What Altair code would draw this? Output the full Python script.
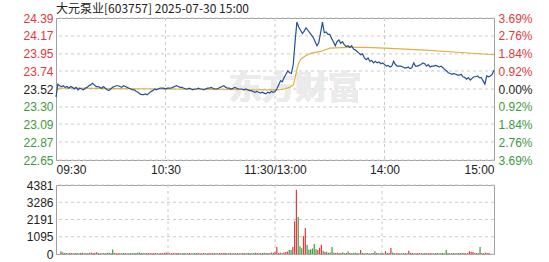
import altair as alt
import pandas as pd

title_text = "大元泵业[603757] 2025-07-30 15:00"
watermark = "东方财富"
prev_close = 23.52
price_ticks = [24.39, 24.17, 23.95, 23.74, 23.52, 23.30, 23.09, 22.87, 22.65]
pct_ticks = [3.69, 2.76, 1.84, 0.92, 0.00, -0.92, -1.84, -2.76, -3.69]
vol_ticks = [0, 1095, 2191, 3286, 4381]
time_ticks = [0, 60, 120, 180, 240]
time_labels = ["09:30", "10:30", "11:30/13:00", "14:00", "15:00"]

price = [
    23.42, 23.58, 23.56, 23.55, 23.56, 23.54, 23.55, 23.53, 23.55, 23.54,
    23.52, 23.54, 23.51, 23.53, 23.52, 23.51, 23.53, 23.54, 23.56, 23.57,
    23.59, 23.57, 23.55, 23.55, 23.54, 23.53, 23.55, 23.53, 23.51, 23.50,
    23.52, 23.54, 23.55, 23.56, 23.56, 23.55, 23.54, 23.56, 23.55, 23.54,
    23.53, 23.52, 23.51, 23.51, 23.49, 23.48, 23.46, 23.45, 23.45, 23.46,
    23.45, 23.47, 23.49, 23.50, 23.52, 23.51, 23.52, 23.53, 23.53, 23.53,
    23.52, 23.53, 23.53, 23.53, 23.54, 23.55, 23.56, 23.55, 23.54, 23.54,
    23.53, 23.52, 23.52, 23.53, 23.52, 23.51, 23.52, 23.52, 23.53, 23.52,
    23.52, 23.51, 23.52, 23.53, 23.53, 23.54, 23.53, 23.52, 23.52, 23.53,
    23.54, 23.55, 23.56, 23.54, 23.53, 23.53, 23.52, 23.53, 23.54, 23.53,
    23.52, 23.52, 23.52, 23.51, 23.52, 23.51, 23.50, 23.50, 23.49, 23.48,
    23.49, 23.48, 23.47, 23.48, 23.47, 23.46, 23.48, 23.47, 23.49, 23.48,
    23.49,
    23.52, 23.57, 23.62, 23.61, 23.66, 23.70, 23.74, 23.72, 23.71, 23.82,
    24.10, 24.34, 24.28, 24.24, 24.20, 24.23, 24.27, 24.24, 24.21, 24.18,
    24.15, 24.10, 24.05, 24.09, 24.21, 24.34, 24.21, 24.22, 24.19, 24.19,
    24.14, 24.10, 24.05, 24.10, 24.12, 24.08, 24.10, 24.06, 24.04, 24.05,
    24.03, 24.05, 24.01, 24.00, 23.98, 23.96, 23.94, 23.95, 23.90, 23.88,
    23.90, 23.86, 23.87, 23.84, 23.86, 23.84, 23.85, 23.83, 23.84, 23.82,
    23.80, 23.81, 23.79, 23.80, 23.86, 23.82, 23.80, 23.80, 23.80, 23.79,
    23.78, 23.78, 23.79, 23.77, 23.78, 23.84, 23.80, 23.80, 23.81, 23.82,
    23.84, 23.83, 23.80, 23.82, 23.79, 23.80, 23.80, 23.81, 23.80, 23.79,
    23.80, 23.78, 23.76, 23.74, 23.72, 23.71, 23.70, 23.71, 23.70, 23.69,
    23.69, 23.70, 23.67, 23.66, 23.64, 23.66, 23.63, 23.65, 23.67, 23.67,
    23.68, 23.66, 23.66, 23.62, 23.58, 23.68, 23.67, 23.68, 23.70, 23.75,
]

volume = [
    180, 90, 60, 70, 50, 80, 60, 40, 70, 60,
    50, 60, 80, 40, 60, 50, 70, 90, 60, 80,
    110, 60, 50, 40, 70, 50, 60, 80, 60, 280,
    70, 50, 60, 40, 50, 60, 70, 40, 50, 60,
    50, 70, 60, 80, 90, 60, 70, 50, 60, 40,
    60, 50, 70, 60, 40, 50, 60, 50, 70, 90,
    60, 50, 40, 60, 50, 70, 60, 40, 50, 60,
    50, 40, 60, 50, 40, 60, 50, 70, 40, 50,
    60, 40, 50, 60, 40, 50, 60, 40, 50, 60,
    50, 60, 80, 50, 40, 60, 50, 40, 50, 60,
    40, 50, 60, 40, 50, 60, 70, 50, 60, 80,
    60, 50, 70, 60, 80, 60, 70, 50, 90, 80,
    120,
    450, 60, 80, 50, 90, 120, 150, 250, 250, 450,
    2080, 4080, 2350, 500, 370, 1140, 1650, 590, 270, 300,
    350, 635, 300, 250, 400, 590, 200, 120, 150, 80,
    100, 450, 90, 60, 80, 70, 60, 110, 50, 60,
    160, 70, 50, 60, 80, 60, 50, 250, 60, 40,
    50, 60, 40, 50, 70, 180, 60, 50, 40, 60,
    50, 180, 60, 70, 380, 90, 50, 40, 60, 50,
    40, 50, 60, 50, 200, 70, 60, 50, 40, 60,
    50, 60, 40, 70, 50, 40, 60, 50, 40, 50,
    60, 50, 70, 60, 40, 250, 60, 50, 40, 60,
    50, 40, 60, 50, 70, 60, 50, 40, 180, 140,
    120, 60, 50, 70, 450, 60, 50, 80, 60, 70,
]

avg_minutes = [0, 2, 10, 30, 60, 90, 110, 120, 121, 125, 128, 130, 131, 132, 133,
               134, 135, 137, 140, 145, 150, 160, 170, 180, 200, 220, 240]
avg_values = [23.50, 23.53, 23.53, 23.525, 23.52, 23.515, 23.51, 23.51, 23.51, 23.52,
              23.54, 23.57, 23.65, 23.76, 23.84, 23.88, 23.90, 23.93, 23.96, 23.98,
              24.02, 24.03, 24.03, 24.02, 24.00, 23.97, 23.94]

RED = "#e2393b"
GREEN = "#3d9a3d"
DARK = "#222222"
BLUE = "#24509a"
GOLD = "#e2b03c"
GRID = "#cacaca"
FONT = "Liberation Sans"

minutes = list(range(len(price)))
direction = []
for i, p in enumerate(price):
    prev = price[i - 1] if i > 0 else prev_close
    direction.append("up" if p >= prev else "down")

price_df = pd.DataFrame({"m": minutes, "p": price})
avg_df = pd.DataFrame({"m": avg_minutes, "p": avg_values})
vol_df = pd.DataFrame({"m": minutes, "v": volume, "dir": direction})
pct_df = pd.DataFrame({"pct": pct_ticks})
pticks_df = pd.DataFrame({"p": price_ticks})
tticks_df = pd.DataFrame({"m": time_ticks[1:-1]})
vticks_df = pd.DataFrame({"v": vol_ticks})

label_expr = "[" + ",".join("'%s'" % t for t in time_labels) + "][round(datum.value/60)]"
xscale = alt.Scale(domain=[0, 240], nice=False, zero=False)
yscale = alt.Scale(domain=[min(price_ticks), max(price_ticks)], nice=False, zero=False)
vscale = alt.Scale(domain=[0, max(vol_ticks)], nice=False, zero=False)

price_label_color = {
    "condition": [
        {"test": "datum.value > %f" % (prev_close + 0.005), "value": RED},
        {"test": "datum.value < %f" % (prev_close - 0.005), "value": GREEN},
    ],
    "value": DARK,
}
pct_label_color = {
    "condition": [
        {"test": "datum.value > 0.001", "value": RED},
        {"test": "datum.value < -0.001", "value": GREEN},
    ],
    "value": DARK,
}

x_axis = alt.Axis(values=time_ticks, labelExpr=label_expr, labelFlush=True,
                  ticks=False, domain=False, grid=False, title=None,
                  labelPadding=4, labelColor=DARK, labelOverlap=False)
y_axis = alt.Axis(orient="left", values=price_ticks, format=".2f",
                  labelColor=price_label_color, ticks=False, domain=False,
                  grid=False, title=None, labelPadding=3, labelOverlap=False)
v_axis = alt.Axis(values=vol_ticks, format="d", ticks=False, domain=False,
                  grid=False, title=None, labelPadding=3, labelColor=DARK,
                  labelOverlap=False)

# dashed grid drawn as rules through the shared scales
hgrid = alt.Chart(pticks_df).mark_rule(color=GRID, strokeDash=[3, 3], strokeWidth=1).encode(
    y=alt.Y("p:Q", scale=yscale, axis=y_axis))
vgrid = alt.Chart(tticks_df).mark_rule(color=GRID, strokeDash=[3, 3], strokeWidth=1).encode(
    x=alt.X("m:Q", scale=xscale, axis=x_axis))

wm = alt.Chart(price_df).mark_text(
    text=watermark, font="Noto Sans CJK SC", fontSize=33, fontWeight="bold",
    color="#ebebeb", align="center", baseline="middle"
).encode(x=alt.X(datum=131, scale=xscale, axis=x_axis),
         y=alt.Y(datum=prev_close, scale=yscale, axis=y_axis))

avg_line = alt.Chart(avg_df).mark_line(color=GOLD, strokeWidth=1.2).encode(
    x=alt.X("m:Q", scale=xscale, axis=x_axis), y=alt.Y("p:Q", scale=yscale, axis=y_axis))

price_line = alt.Chart(price_df).mark_line(color=BLUE, strokeWidth=1.2).encode(
    x=alt.X("m:Q", scale=xscale, axis=x_axis), y=alt.Y("p:Q", scale=yscale, axis=y_axis))

inner = alt.layer(hgrid, vgrid, wm, avg_line, price_line)

pct_layer = alt.Chart(pct_df).mark_point(opacity=0).encode(
    x=alt.X(datum=0, scale=xscale, axis=x_axis),
    y=alt.Y("pct:Q", scale=alt.Scale(domain=[-3.69, 3.69], nice=False, zero=False),
            axis=alt.Axis(orient="right", values=pct_ticks,
                          labelExpr="format(abs(datum.value), '.2f') + '%'",
                          labelColor=pct_label_color, ticks=False, domain=False,
                          grid=False, title=None, labelPadding=4, labelOverlap=False)))

price_chart = alt.layer(inner, pct_layer).resolve_scale(
    y="independent"
).properties(
    width=438, height=142,
    title=alt.TitleParams(title_text, anchor="start", frame="group", fontSize=12,
                          font="Noto Sans CJK SC", fontWeight="normal", color=DARK,
                          offset=-4)
)

vhgrid = alt.Chart(vticks_df).mark_rule(color=GRID, strokeDash=[3, 3], strokeWidth=1).encode(
    y=alt.Y("v:Q", scale=vscale, axis=v_axis))
vvgrid = alt.Chart(tticks_df).mark_rule(color=GRID, strokeDash=[3, 3], strokeWidth=1).encode(
    x=alt.X("m:Q", scale=xscale, axis=None))

bars = alt.Chart(vol_df).mark_bar(size=1.2).encode(
    x=alt.X("m:Q", scale=xscale, axis=None),
    y=alt.Y("v:Q", scale=vscale, axis=v_axis),
    color=alt.Color("dir:N", scale=alt.Scale(domain=["up", "down"], range=[RED, GREEN]),
                    legend=None),
)

vol_chart = alt.layer(vhgrid, vvgrid, bars).properties(width=438, height=69)

chart = alt.vconcat(price_chart, vol_chart, spacing=25, bounds="flush").properties(
    padding={"left": 22, "top": 2, "right": 4, "bottom": 2},
    background="white",
).configure_view(
    stroke="#a0a0a0", strokeWidth=1
).configure_axis(
    labelFont=FONT, labelFontSize=12
).configure_title(font="Noto Sans CJK SC")

chart.save("out.html", embed_options={"renderer": "svg", "actions": False})
